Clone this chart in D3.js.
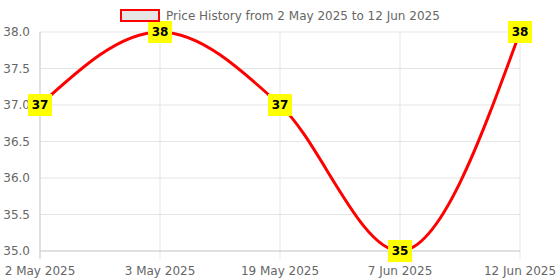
<!DOCTYPE html>
<html>
<head>
<meta charset="utf-8">
<script src="https://cdn.jsdelivr.net/npm/d3@7"></script>
<style>
  body { margin: 0; background: #fff; }
  text { font-family: "DejaVu Sans", sans-serif; }
</style>
</head>
<body>
<div id="chart"></div>
<script>
// data
var dates = ["2 May 2025", "3 May 2025", "19 May 2025", "7 Jun 2025", "12 Jun 2025"];
var prices = [37, 38, 37, 35, 38];
var yTicks = [35.0, 35.5, 36.0, 36.5, 37.0, 37.5, 38.0];
var seriesName = "Price History from 2 May 2025 to 12 Jun 2025";

var svgWidth = 560, svgHeight = 280;
var margin = {top: 32, right: 40, bottom: 29, left: 40};
var width = svgWidth - margin.left - margin.right;
var height = svgHeight - margin.top - margin.bottom;

var svg = d3.select("#chart").append("svg")
  .attr("width", svgWidth)
  .attr("height", svgHeight);

var chart = svg.append("g")
  .attr("transform", `translate(${margin.left}, ${margin.top})`);

var x = d3.scalePoint().domain(dates).range([0, width]);
var y = d3.scaleLinear().domain([35, 38]).range([height, 0]);

// grid
chart.append("g")
  .selectAll("line")
  .data(yTicks)
  .enter().append("line")
  .attr("x1", 0).attr("x2", width)
  .attr("y1", d => y(d)).attr("y2", d => y(d))
  .attr("stroke", "#e5e5e5");

chart.append("g")
  .selectAll("line")
  .data(dates)
  .enter().append("line")
  .attr("x1", d => x(d)).attr("x2", d => x(d))
  .attr("y1", 0).attr("y2", height + 8)
  .attr("stroke", "#e5e5e5");

// axes lines
chart.append("line").attr("x1", 0).attr("x2", 0).attr("y1", 0).attr("y2", height + 8).attr("stroke", "#cfcfcf");
chart.append("line").attr("x1", 0).attr("x2", width).attr("y1", height).attr("y2", height).attr("stroke", "#cfcfcf");

// tick labels
chart.append("g")
  .selectAll("text")
  .data(yTicks)
  .enter().append("text")
  .attr("x", -10)
  .attr("y", d => y(d))
  .attr("dy", "0.35em")
  .attr("text-anchor", "end")
  .attr("font-size", 12)
  .attr("fill", "#666")
  .text(d => d.toFixed(1));

chart.append("g")
  .selectAll("text")
  .data(dates)
  .enter().append("text")
  .attr("x", d => x(d))
  .attr("y", height + 24)
  .attr("text-anchor", "middle")
  .attr("font-size", 12)
  .attr("fill", "#666")
  .text(d => d);

// line
var line = d3.line()
  .x((d, i) => x(dates[i]))
  .y(d => y(d))
  .curve(d3.curveMonotoneX);

chart.append("path")
  .datum(prices)
  .attr("d", line)
  .attr("fill", "none")
  .attr("stroke", "red")
  .attr("stroke-width", 3);

// data labels
var labels = chart.append("g")
  .selectAll("g")
  .data(prices)
  .enter().append("g")
  .attr("transform", (d, i) => `translate(${x(dates[i])}, ${y(d)})`);

labels.append("rect")
  .attr("x", -12).attr("y", -11)
  .attr("width", 24).attr("height", 22)
  .attr("fill", "yellow");

labels.append("text")
  .attr("text-anchor", "middle")
  .attr("dy", "0.36em")
  .attr("font-size", 12)
  .attr("font-weight", "bold")
  .attr("fill", "#000")
  .text(d => d);

// legend
var legend = svg.append("g");
legend.append("rect")
  .attr("x", 121).attr("y", 10)
  .attr("width", 38).attr("height", 11)
  .attr("fill", "#e6e6e6")
  .attr("stroke", "red")
  .attr("stroke-width", 2);
legend.append("text")
  .attr("x", 166).attr("y", 16)
  .attr("dy", "0.35em")
  .attr("font-size", 12)
  .attr("fill", "#666")
  .text(seriesName);
</script>
</body>
</html>
